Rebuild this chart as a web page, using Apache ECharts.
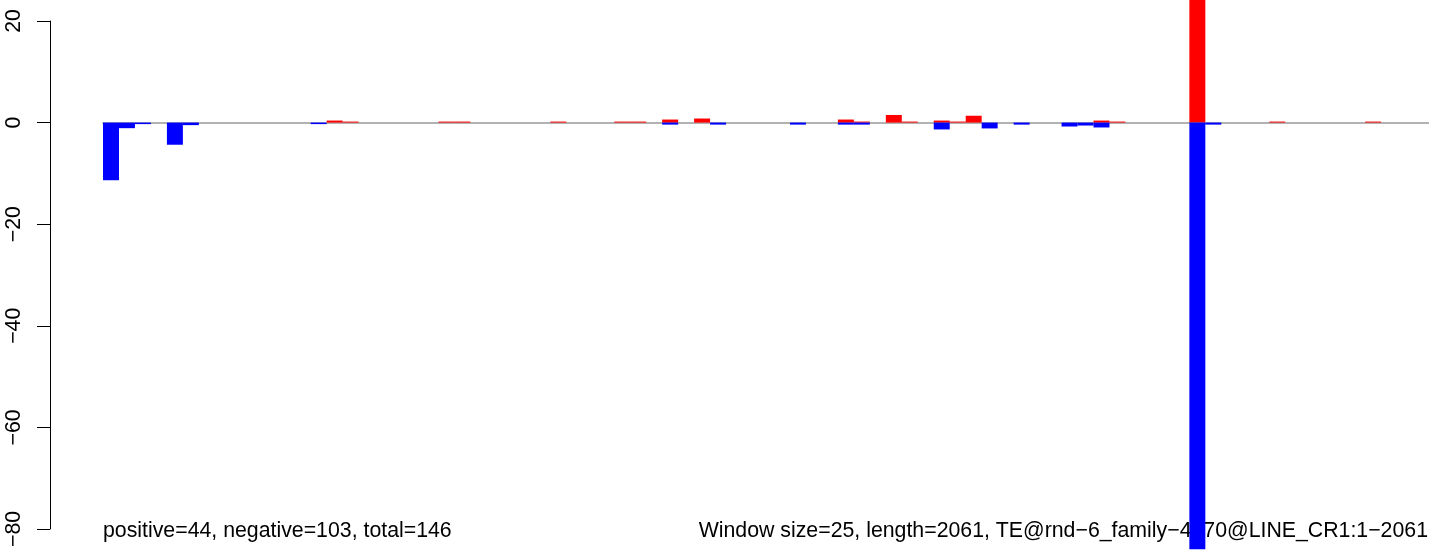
<!DOCTYPE html>
<html><head><meta charset="utf-8">
<script src="https://cdn.jsdelivr.net/npm/echarts@6/dist/echarts.min.js"></script>
<style>html,body{margin:0;padding:0;background:#fff}#c{width:1429px;height:550px}</style>
</head><body><div id="c"></div>
<script>
const bins = [];
for (let i = 1; i <= 83; i++) bins.push(String(i));
const positiveValues = [
  0,0,0,0,0,0,0,0,0,0,
  0,0,0,0,0.4,0.2,0,0,0,0,
  0,0.2,0.2,0,0,0,0,0,0.2,0,
  0,0,0.2,0.2,0,0.6,0,0.8,0,0,
  0,0,0,0,0,0,0.6,0.2,0,1.5,
  0.2,0,0.4,0.2,1.35,0,0,0,0,0,
  0,0,0.4,0.2,0,0,0,0,26,0,
  0,0,0,0.2,0,0,0,0,0,0.2,
  0,0,0
];
const negativeValues = [
  -11.35,-1.1,-0.3,0,-4.36,-0.5,0,0,0,0,
  0,0,0,-0.3,0,0,0,0,0,0,
  0,0,0,0,0,0,0,0,0,0,
  0,0,0,0,0,-0.4,0,0,-0.4,0,
  0,0,0,-0.4,0,0,-0.4,-0.4,0,0,
  0,0,-1.35,0,0,-1.15,0,-0.4,0,0,
  -0.77,-0.58,-0.96,0,0,0,0,0,-84,-0.4,
  0,0,0,0,0,0,0,0,0,0,
  0,0,0
];
const yMin = -80, yMax = 20, yStep = 20;
const leftText = 'positive=44, negative=103, total=146';
const rightText = 'Window size=25, length=2061, TE@rnd\u22126_family\u22124170@LINE_CR1:1\u22122061';

const FONT = '"Liberation Sans", Arial, Helvetica, sans-serif';
const chart = echarts.init(document.getElementById('c'), null, {renderer: 'canvas'});
chart.setOption({
  animation: false,
  backgroundColor: '#ffffff',
  grid: {left: 103, top: 21, bottom: 9, width: 1328, containLabel: false},
  xAxis: {
    type: 'category', data: bins, boundaryGap: true,
    axisLine: {show: true, onZero: true, lineStyle: {color: '#999999', width: 1.7}},
    axisTick: {show: false}, axisLabel: {show: false}, splitLine: {show: false}
  },
  yAxis: {
    type: 'value', min: yMin, max: yMax, interval: yStep, position: 'left', offset: 53,
    axisLine: {show: true, lineStyle: {color: '#000', width: 1}},
    axisTick: {show: true, length: 13, lineStyle: {color: '#000', width: 1}},
    axisLabel: {rotate: 90, margin: 25, fontSize: 21.3, color: '#000', fontFamily: FONT,
      formatter: v => String(v).replace('-', '\u2212')},
    splitLine: {show: false}
  },
  series: [
    {type: 'bar', name: 'positive', data: positiveValues, barWidth: '100%', barGap: '-100%',
     clip: false, itemStyle: {color: '#ff0000'}, z: 3},
    {type: 'bar', name: 'negative', data: negativeValues, barWidth: '100%', barGap: '-100%',
     clip: false, itemStyle: {color: '#0000ff'}, z: 3}
  ],
  graphic: [
    {type: 'text', x: 103, y: 531, z: 1,
     style: {text: leftText, font: '21.3px ' + FONT, fill: '#000', textAlign: 'left', textVerticalAlign: 'middle'}},
    {type: 'text', x: 1428, y: 531, z: 1,
     style: {text: rightText, font: '21.3px ' + FONT, fill: '#000', textAlign: 'right', textVerticalAlign: 'middle'}}
  ]
});
</script></body></html>
